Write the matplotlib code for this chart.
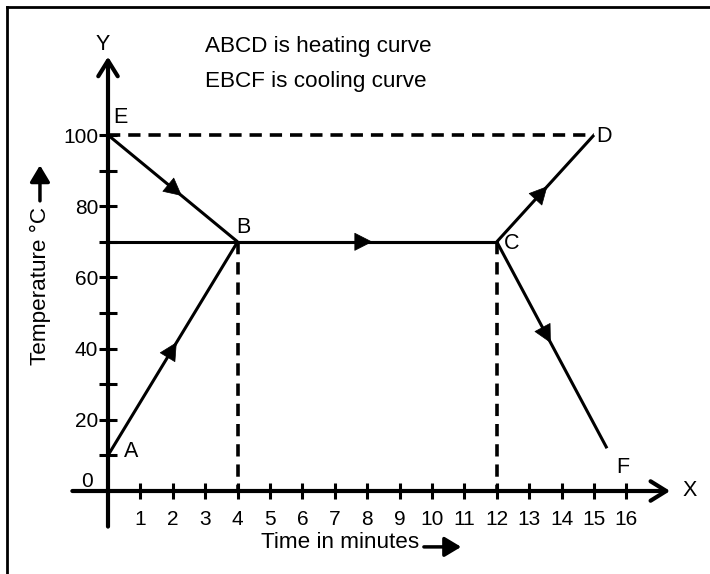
import matplotlib.pyplot as plt
from matplotlib.lines import Line2D

plt.rcParams['font.family'] = ['Liberation Sans', 'DejaVu Sans']

# key points of the curves (time in min, temperature in deg C)
pt_names = ['A', 'B', 'C', 'D', 'E', 'F']
pt_x = [0, 4, 12, 15, 0, 15.4]
pt_y = [10, 70, 70, 100, 100, 12]

x_ticks = list(range(1, 17))
y_ticks = [10, 20, 30, 40, 50, 60, 70, 80, 90, 100]
y_labels = ['', '20', '', '40', '', '60', '', '80', '', '100']

P = dict(zip(pt_names, zip(pt_x, pt_y)))

# solid segments with direction arrow (start, end, where along the segment the arrow tip sits)
segments = [('A', 'B', 0.53), ('E', 'B', 0.57), ('B', 'C', 0.52), ('C', 'D', 0.52), ('C', 'F', 0.49)]

fig = plt.figure(figsize=(7.1, 5.74), dpi=100)
ax = fig.add_axes([0, 0, 1, 1])
ax.set_xlim(-108 / 32.4, (710 - 108) / 32.4)
ax.set_ylim(-(574 - 491) / 3.56, 491 / 3.56)

for s in ['top', 'right']:
    ax.spines[s].set_visible(False)
ax.spines['left'].set_position(('data', 0))
ax.spines['bottom'].set_position(('data', 0))
ax.spines['left'].set_visible(False)
ax.spines['bottom'].set_visible(False)

ax.set_xticks(x_ticks)
ax.set_xticklabels([str(t) for t in x_ticks])
ax.set_yticks(y_ticks)
ax.set_yticklabels(y_labels)
ax.tick_params(axis='x', direction='inout', length=11.5, width=2.2, pad=8, labelsize=15)
ax.tick_params(axis='y', direction='inout', length=13, width=2.2, pad=0.5, labelsize=15)

# axes with arrow heads
ax.annotate('', xy=(17.35, 0), xytext=(-1.1, 0),
            arrowprops=dict(arrowstyle='->,head_length=0.45,head_width=0.28', lw=3, color='black',
                            shrinkA=0, shrinkB=0, mutation_scale=25), zorder=3)
ax.annotate('', xy=(0, 122), xytext=(0, -10),
            arrowprops=dict(arrowstyle='->,head_length=0.45,head_width=0.28', lw=3, color='black',
                            shrinkA=0, shrinkB=0, mutation_scale=25), zorder=3)

# dashed guide lines
ax.plot([P['E'][0], P['D'][0]], [P['E'][1], P['D'][1]], color='black', lw=2.6, dashes=(3.4, 2.2))
ax.plot([P['B'][0], P['B'][0]], [P['B'][1], 0], color='black', lw=2.6, dashes=(3.4, 2.2))
ax.plot([P['C'][0], P['C'][0]], [P['C'][1], 0], color='black', lw=2.6, dashes=(3.4, 2.2))

# horizontal line from the y-axis to C
ax.plot([0, P['C'][0]], [P['B'][1], P['C'][1]], color='black', lw=2.2)

for a, b, f in segments:
    (x0, y0), (x1, y1) = P[a], P[b]
    ax.plot([x0, x1], [y0, y1], color='black', lw=2.2, solid_capstyle='butt')
    tx, ty = x0 + f * (x1 - x0), y0 + f * (y1 - y0)
    bx, by = x0 + (f - 0.05) * (x1 - x0), y0 + (f - 0.05) * (y1 - y0)
    ax.annotate('', xy=(tx, ty), xytext=(bx, by),
                arrowprops=dict(arrowstyle='-|>,head_length=0.55,head_width=0.28', lw=0.5, color='black',
                                shrinkA=0, shrinkB=0, mutation_scale=22))

# point labels
lab_pos = {'A': (0.7, 11), 'B': (4.17, 74), 'C': (12.45, 69.5), 'D': (15.3, 99.5),
           'E': (0.37, 105), 'F': (15.9, 6.5)}
for n, (lx, ly) in lab_pos.items():
    ax.text(lx, ly, n, fontsize=15.5, ha='center', va='center')

ax.text(-0.65, 2.8, '0', fontsize=15, ha='center', va='center')
ax.text(-0.15, 125.5, 'Y', fontsize=15.5, ha='center', va='center')
ax.text(17.95, 0, 'X', fontsize=15.5, ha='center', va='center')

ax.text(2.99, 125, 'ABCD is heating curve', fontsize=16.2, ha='left', va='center')
ax.text(2.99, 114.9, 'EBCF is cooling curve', fontsize=16.2, ha='left', va='center')

# axis titles with their arrows
ax.text(-2.1, 57.5, 'Temperature °C', fontsize=16.2, rotation=90, ha='center', va='center')
ax.annotate('', xy=(-2.1, 91.5), xytext=(-2.1, 81.5),
            arrowprops=dict(arrowstyle='-|>,head_length=0.5,head_width=0.3', lw=2.5, color='black',
                            shrinkA=0, shrinkB=0, mutation_scale=20))
ax.text(7.15, -14.6, 'Time in minutes', fontsize=16.2, ha='center', va='center')
ax.annotate('', xy=(10.9, -15.7), xytext=(9.75, -15.7),
            arrowprops=dict(arrowstyle='-|>,head_length=0.5,head_width=0.3', lw=2.5, color='black',
                            shrinkA=0, shrinkB=0, mutation_scale=20))

# frame (top and left edges)
fig.add_artist(Line2D([7 / 710, 1], [1 - 7 / 574, 1 - 7 / 574], transform=fig.transFigure, color='black', lw=2))
fig.add_artist(Line2D([7 / 710, 7 / 710], [0, 1 - 7 / 574], transform=fig.transFigure, color='black', lw=2))

fig.savefig('out.png', dpi=100)
